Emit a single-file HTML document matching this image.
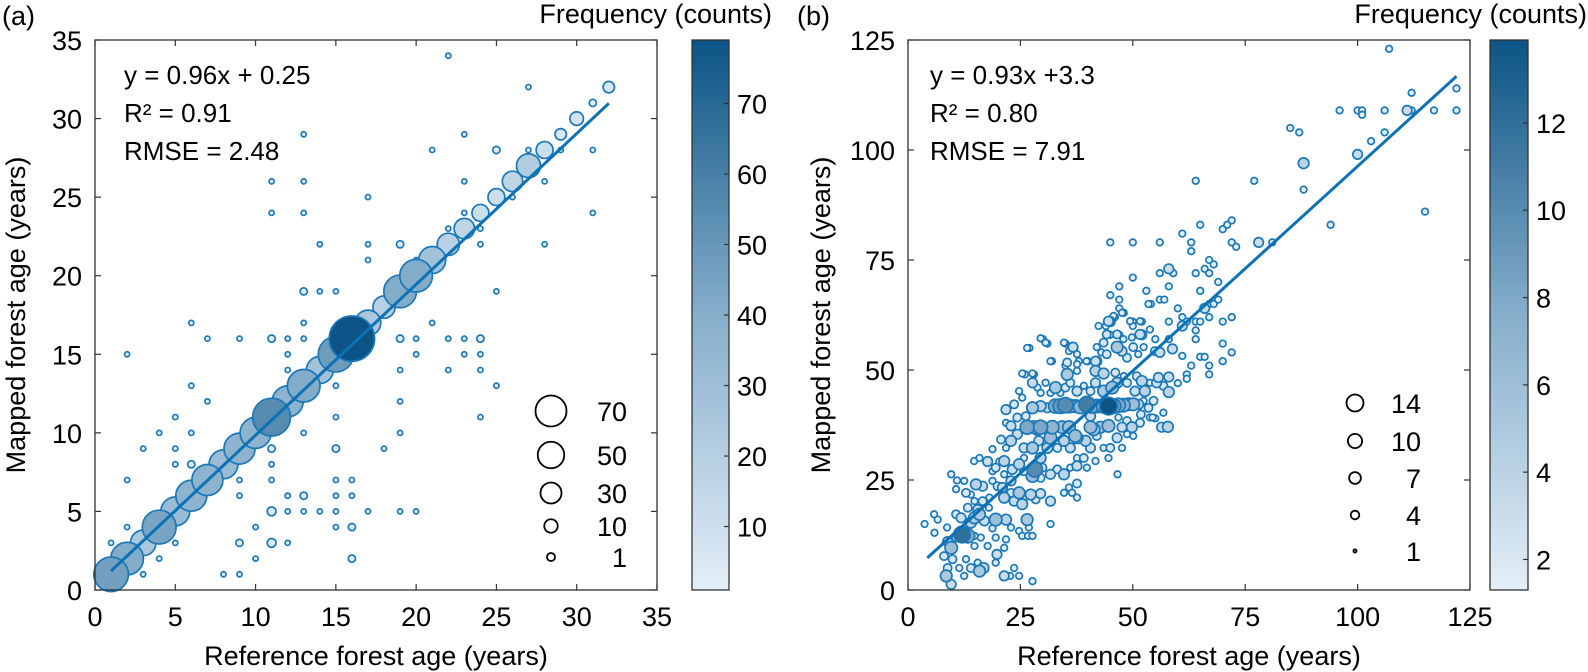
<!DOCTYPE html>
<html><head><meta charset="utf-8"><style>
body{margin:0;background:#fff;}
svg{display:block;font-family:"Liberation Sans",Arial,sans-serif;}
</style></head><body>
<svg id="fig" width="1588" height="672" viewBox="0 0 1588 672" xmlns="http://www.w3.org/2000/svg">
<defs>
<linearGradient id="cbgrad" x1="0" y1="1" x2="0" y2="0">
<stop offset="0" stop-color="#e3eef7"/><stop offset="0.5" stop-color="#86aecb"/><stop offset="1" stop-color="#0b5485"/>
</linearGradient>
</defs>
</svg>
<script>
// ---------- Panel (a) data ----------
const aDiagAges = [1,2,3,4,5,6,7,8,9,10,11,12,13,14,15,16,17,18,19,20,21,22,23,24,25,26,27,28,29,30,31,32];
const aDiagCounts = [46,41,25,44,32,37,37,32,37,37,55,37,41,28,48,79,25,19,41,41,28,19,16,11,11,16,22,11,5,7,2,5];
const aRefX = [22,27,13,23,21,25,27,28,29,31,11,13,23,28,17,11,13,23,31,26,22,24,14,17,19,24,28,17,20,13,14,15,25,6,13,16,21,7,9,11,12,13,17,19,20,22,23,24,2,12,20,23,24,12,19,22,24,6,15,25,7,19,11,5,15,24,4,6,13,19,3,5,11,15,18,5,6,11,2,9,11,15,16,9,12,13,15,16,11,12,13,14,15,17,19,20,2,10,15,16,1,5,9,11,12,4,10,16,3,8,9];
const aMapY = [34,32,29,29,28,28,28,28,28,28,26,26,26,26,25,24,24,24,24,25,23,23,22,22,22,22,22,21,21,19,19,19,19,17,17,17,17,16,16,16,16,16,16,16,16,16,16,16,15,15,15,15,15,14,14,14,14,13,13,13,12,12,12,11,11,11,10,10,10,10,9,9,9,9,9,8,8,8,7,7,7,7,7,6,6,6,6,6,5,5,5,5,5,5,5,5,4,4,4,4,3,3,3,3,3,2,2,2,1,1,1];
const aRefCounts = [1,1,1,1,1,2,1,1,1,1,1,1,1,1,1,1,1,1,1,1,1,1,1,1,2,1,1,1,1,2,1,1,1,1,1,1,1,1,1,2,1,1,1,2,1,1,1,2,1,1,1,1,1,1,1,1,1,1,1,1,1,1,1,1,1,1,1,1,1,1,1,1,2,2,1,1,2,1,1,1,1,1,1,1,1,2,1,1,3,1,1,1,1,1,1,1,1,1,1,2,1,1,2,3,1,1,1,2,1,1,1];
const aXTicks = [0,5,10,15,20,25,30,35];
const aYTicks = [0,5,10,15,20,25,30,35];
const aCbTicks = [10,20,30,40,50,60,70];
const aLegendCounts = [70,50,30,10,1];

// ---------- Panel (b) data ----------
const bRefX = [107,122,112,96,100,101,101,106,111,112,117,122,85,87,106,103,100,88,64,77,88,115,65,94,70,71,72,61,45,50,56,63,63,72,73,78,81,50,56,58,59,64,66,67,68,67,47,58,53,65,45,47,56,57,69,54,66,67,68,69,47,48,60,46,45,44,61,61,62,67,72,70,50,52,50,58,64,65,64,64,45,47,52,55,58,30,31,27,35,37,70,72,70,65,66,67,67,63,32,35,38,40,42,26,28,62,62,60,57.8,55,56.8,58,58,61,58.8,
8.5,9.6,8.8,9.9,11.4,12.9,12.5,14,15.9,16.8,15.5,19.5,21.4,22.7,23.6,24.7,27.7,
9.6,8.8,10.7,12,13.3,14.8,17.7,19.8,21.4,21.8,19.5,16.2,14.8,24.7,25.4,26.7,27.7,8,5.9,
3.7,5.8,6.6,8.7,10.7,11.8,14,14.8,15.9,17,18.8,19.5,21.8,22.9,26.5,26.9,31.7,13.3,15.5,18,
10.7,9.6,10.9,12.5,12.9,14,15.1,16.6,14.8,16.6,18.1,18.8,19.9,21,21.4,22.9,23.6,24.7,25.8,27.3,25.4,28.4,29.5,31.7,34.7,35.8,36.5,37.6,37.6,22.9,
14.7,15.9,17.7,19.5,20.3,21.4,18.8,18.8,21.4,23.2,24.7,25.8,27.7,28.2,29.9,29.5,31.7,33.2,34.7,36.1,37.6,39.1,41.7,39.8,46.6,44.6,37.6,25.8,29.5,
20.7,21.8,22.9,24.3,25.8,27.7,29.1,31,31.7,33.2,34.7,36.1,37.6,39.5,40.6,42,43.5,45,46.5,47.6,48.7,50.1,44.6,41.3,28.8,
26.5,28,29.5,32.1,34.3,35.8,37.2,40.6,42.8,47.6,49.8,51.6,53.8,56.4,48.7,
32.8,33.9,35,36.1,37.2,38.3,39.8,40.9,42,43.5,44.6,45.7,46.8,47.9,49,50.1,51.3,
21.8,23.6,24.7,25.4,27.7,26.2,29.5,31,21.8,22.9,24.3,53.5,54.6,52.4,52.7,54.4,51.8,46.8,40.6,
25.4,27.7,27.7,28.8,29.5,30.6,31.7,32.8,33.9,35,36.1,37.6,39.1,40.6,41.7,43.5,45.4,46.5,48.7,50.5,52,53.8,55.3,35.4,37.6,41.7,43.5,46.1,48,50.9,55.7,56.8,
26.5,29.5,30.6,31.7,34.7,35.8,36.7,37.6,35.4,37.6,39.7,41.7,42,43,42.4,44.2,44.6,45.7,46.5,47.6,48.7,50.1,51.2,52.4,46.5,47.9,49.8,51.6,53.8,54.9,56,49.4,51.6,47.6,53.5,43.5,44.2];
const bMapY = [123,114,113,109,109,109,108,109,109,109,109,109,105,104,104,102,99,97,93,93,91,86,83,83,82,83,84,81,79,79,79,79,77,79,78,79,79,71,72,73,72,72,73,75,74,72,69,69,68,68,67,66,66,66,70,65,64,65,65,66,64,63,64,62,61,60,62,60,61,62,62,61,61,61,60,61,61,61,59,57,58,58,58,57,57,57,56,55,56,55,56,54,52,53,53,51,49,51,52,51,52,52,52,49,49,49,48,47,37.1,39,40.3,45,48.4,53.2,54.8,
3.2,1.3,5,7,5,7,3.2,5,4.3,5,6.2,6.2,3.2,3.2,5,3.2,2,
9.6,11,11.9,12.6,12.3,10,10,8.1,9.6,11.5,11.9,11.9,12.3,13.4,12.3,12.3,12.3,7.7,13,
15,17.2,16,14.2,17.2,16.4,15.3,16.4,17.2,15.7,14,16,16,14.2,16,14.2,15,18.7,18.3,18.7,
22.9,26.3,24.9,24.8,22.1,21.7,24,23.6,20.2,20.2,21,24.8,23.6,23.3,21,22.1,20.2,22.1,21.4,21.7,19.5,20.6,21.9,20.2,22.1,23.3,22.1,21,24.2,24.8,
29.3,30,29.2,27.8,29.2,29.3,32,27,26.3,27.4,28.6,27,25.9,27.4,27.8,25.5,26.3,27.4,26.3,27.8,28.2,30,29.3,27.8,26.3,30,30,30,30,
34.2,32.3,33.9,35.4,32.3,32.3,33.9,32.3,34.6,32.3,33.9,32.3,34.6,33.9,32.3,35,32.3,32.3,34.6,32.3,35.4,35,37.3,36.5,36.5,
37,37,37,37,37,37,35,37,37,37,37,38,39.2,37,38.4,
41.8,41.8,42,41.8,41.8,41.6,42.2,41.8,41.8,41.8,41.8,41.8,42,42,42.2,42.2,42.2,
41,42.2,45.2,43.7,41.4,39.5,41.8,41.4,38,37.3,39.2,41.4,43,43,45.2,39.2,39.9,39.2,39.5,
49.2,49.2,47.1,46,44.8,47.1,44.8,46,44.8,46,47.1,45.2,46.4,45.2,47.1,45.2,46,47.1,47.1,45.2,47.5,47.1,47.1,49,49.8,49.8,49.2,49.4,48.6,48.6,48.3,46.4,
55,57.2,56.2,52,56.2,54.3,55.2,53.6,51.7,51.3,52,52,55.2,54,60,58.1,61.1,62.3,55.2,54.3,52.8,55.2,53.6,55.2,58.1,57,57.4,58.1,59.2,54.3,54,61.1,61.1,63,65,56.2,53.6];
const bCounts = [1,1,1,1,1,1,1,1,3,1,1,1,1,1,1,1,3,4,1,1,1,1,1,1,1,1,1,1,1,1,1,1,1,1,1,3,1,1,1,3,1,1,1,1,1,1,1,1,1,1,1,1,1,1,1,1,3,1,1,1,1,1,1,1,3,1,1,3,1,1,1,1,1,1,1,1,1,1,1,1,1,1,3,1,1,1,1,1,1,1,1,1,1,1,1,1,1,1,1,1,1,1,3,1,1,1,1,1,4,1,1,4,3,1,3,
5,3,2,2,1,1,1,2,5,4,1,1,3,1,1,1,1,
6,3,2,12,8,1,1,3,1,1,1,1,1,1,1,1,1,2,1,
1,1,1,1,2,3,4,5,5,3,1,6,4,1,5,1,1,2,3,1,
1,1,1,1,2,1,4,3,1,2,1,1,2,3,4,2,3,5,3,4,4,2,3,3,1,1,1,1,2,3,
1,1,3,2,1,4,1,1,1,3,4,2,6,10,2,2,3,2,4,1,3,2,1,1,1,1,1,1,4,
2,1,4,3,3,5,3,4,6,2,4,3,5,4,3,2,1,2,3,1,1,1,6,6,5,
8,6,8,7,6,6,6,6,5,3,4,2,1,3,2,
8,9,10,7,6,7,11,8,7,8,14,9,8,7,6,6,3,
3,2,1,1,5,2,4,3,1,3,2,2,2,1,4,1,2,1,3,
1,1,3,1,1,1,1,5,1,2,2,3,1,2,3,5,6,4,2,3,4,1,3,5,1,4,4,2,1,2,3,2,
1,1,1,1,1,1,3,1,2,1,1,3,1,1,1,2,3,1,5,3,2,2,1,1,2,1,1,3,1,2,3,1,1,1,1,2,2];
const bXTicks = [0,25,50,75,100,125];
const bYTicks = [0,25,50,75,100,125];
const bCbTicks = [2,4,6,8,10,12];
const bLegendCounts = [14,10,7,4,1];

// ---------- helpers ----------
const NS = 'http://www.w3.org/2000/svg';
const svg = document.getElementById('fig');
function el(tag, attrs, parent){
  const e = document.createElementNS(NS, tag);
  for (const k in attrs) e.setAttribute(k, attrs[k]);
  (parent||svg).appendChild(e);
  return e;
}
function lerp(a,b,t){return a+(b-a)*t;}
function hex(c){return [parseInt(c.slice(1,3),16),parseInt(c.slice(3,5),16),parseInt(c.slice(5,7),16)];}
const stops=[hex('#e3eef7'),hex('#86aecb'),hex('#0b5485')];
function cmap(t){
  t=Math.max(0,Math.min(1,t));
  let a,b,u;
  if(t<0.5){a=stops[0];b=stops[1];u=t/0.5;}else{a=stops[1];b=stops[2];u=(t-0.5)/0.5;}
  return 'rgb('+Math.round(lerp(a[0],b[0],u))+','+Math.round(lerp(a[1],b[1],u))+','+Math.round(lerp(a[2],b[2],u))+')';
}
const EDGE='#1a78b8';
const FS=27;

function panel(cfg){
  const g = el('g',{});
  
  
  const sx = v => cfg.x0 + (v-cfg.xmin)/(cfg.xmax-cfg.xmin)*(cfg.x1-cfg.x0);
  const sy = v => cfg.y0 - (v-cfg.ymin)/(cfg.ymax-cfg.ymin)*(cfg.y0-cfg.y1);
  const cy = v => cfg.y0 - (v-cfg.cmin)/(cfg.cmax-cfg.cmin)*(cfg.y0-cfg.y1);
  const col = c => cmap((c-cfg.cmin)/(cfg.cmax-cfg.cmin));
  const marks = el('g',{},g);
  
  
  cfg.pts.forEach(p=>{
    const c = el('circle',{cx:sx(p[0]).toFixed(1),cy:sy(p[1]).toFixed(1),r:cfg.rad(p[2]).toFixed(2),fill:col(p[2]),stroke:EDGE,'stroke-width':1.7},marks);
    
    
  });
  const ln = el('line',{x1:sx(cfg.fit[0]),y1:sy(cfg.fit[2]*cfg.fit[0]+cfg.fit[3]),x2:sx(cfg.fit[1]),y2:sy(cfg.fit[2]*cfg.fit[1]+cfg.fit[3]),stroke:'#0b72b5','stroke-width':3},g);
  
  
  const fr = el('rect',{x:cfg.x0,y:cfg.y1,width:cfg.x1-cfg.x0,height:cfg.y0-cfg.y1,fill:'none',stroke:'#333','stroke-width':1.3},g);
  
  
  cfg.xt.forEach(v=>{
    const x=sx(v);
    el('line',{x1:x,y1:cfg.y0,x2:x,y2:cfg.y0-6,stroke:'#333','stroke-width':1.2},g);
    el('line',{x1:x,y1:cfg.y1,x2:x,y2:cfg.y1+6,stroke:'#333','stroke-width':1.2},g);
    const t=el('text',{x:x,y:cfg.y0+36,'font-size':FS,'text-anchor':'middle'},g);
    t.textContent=v;
    
    
  });
  cfg.yt.forEach(v=>{
    const y=sy(v);
    el('line',{x1:cfg.x0,y1:y,x2:cfg.x0+6,y2:y,stroke:'#333','stroke-width':1.2},g);
    el('line',{x1:cfg.x1,y1:y,x2:cfg.x1-6,y2:y,stroke:'#333','stroke-width':1.2},g);
    const t=el('text',{x:cfg.x0-13,y:y+10,'font-size':FS,'text-anchor':'end'},g);
    t.textContent=v;
    
    
  });
  const xl=el('text',{x:(cfg.x0+cfg.x1)/2,y:cfg.y0+75,'font-size':FS,'text-anchor':'middle'},g);
  xl.textContent='Reference forest age (years)';
  
  
  const yl=el('text',{x:0,y:0,'font-size':FS,'text-anchor':'middle',transform:'translate('+(cfg.x0-cfg.ylabOff)+','+((cfg.y0+cfg.y1)/2)+') rotate(-90)'},g);
  yl.textContent='Mapped forest age (years)';
  
  
  cfg.ann.forEach((s,i)=>{
    const t=el('text',{x:cfg.x0+cfg.annX,y:cfg.y1+44+i*38,'font-size':26},g);
    t.textContent=s;
    
    
  });
  const pl=el('text',{x:cfg.letterX,y:25,'font-size':FS},g);
  pl.textContent=cfg.letter;
  
  
  const lg=el('g',{},g);
  
  
  let y=cfg.legY[0];
  cfg.legCounts.forEach((c,i)=>{
    y+=cfg.legY[1][i];
    el('circle',{cx:cfg.legX,cy:y,r:cfg.legRad(c),fill:'none',stroke:'#000','stroke-width':1.8},lg);
    const t=el('text',{x:cfg.legX+cfg.legTx,y:y+10,'font-size':FS,'text-anchor':'end'},lg);
    t.textContent=c;
    
    
  });
  const cb=el('g',{},g);
  
  
  el('rect',{x:cfg.cbx,y:cfg.y1,width:cfg.cbw,height:cfg.y0-cfg.y1,fill:'url(#cbgrad)',stroke:'#333','stroke-width':1.3},cb);
  cfg.cbt.forEach(v=>{
    const yy=cy(v);
    el('line',{x1:cfg.cbx+cfg.cbw,y1:yy,x2:cfg.cbx+cfg.cbw-5,y2:yy,stroke:'#333','stroke-width':1.2},cb);
    const t=el('text',{x:cfg.cbx+cfg.cbw+8,y:yy+10,'font-size':FS},cb);
    t.textContent=v;
    
    
  });
  const ct=el('text',{x:cfg.cbTitleX,y:23,'font-size':FS,'text-anchor':'end'},cb);
  ct.textContent='Frequency (counts)';
  
  
}

const aPts=[];
aDiagAges.forEach((x,i)=>aPts.push([x,x,aDiagCounts[i]]));
aRefX.forEach((x,i)=>aPts.push([x,aMapY[i],aRefCounts[i]]));
aPts.sort((p,q)=>p[2]-q[2]);
const bPts=bRefX.map((x,i)=>[x,bMapY[i],bCounts[i]]);
bPts.sort((p,q)=>p[2]-q[2]);

panel({name:'panel-a',letter:'(a)',letterX:2,x0:95,x1:657,y0:590,y1:40,xmin:0,xmax:35,ymin:0,ymax:35,
  cmin:1,cmax:79,pts:aPts,rad:c=>2.55*Math.sqrt(c),fit:[1,32,0.96,0.25],
  xt:aXTicks,yt:aYTicks,ylabOff:70,ann:['y = 0.96x + 0.25','R\u00b2 = 0.91','RMSE = 2.48'],annX:29,
  legCounts:aLegendCounts,legX:551,legTx:76,legY:[411,[0,44,38,33,31]],legRad:c=>Math.sqrt(13+3.25*c),
  cbx:692,cbw:37,cbt:aCbTicks,cbTitleX:772});
panel({name:'panel-b',letter:'(b)',letterX:797,x0:908,x1:1470,y0:590,y1:40,xmin:0,xmax:125,ymin:0,ymax:125,
  cmin:1.3,cmax:13.9,pts:bPts,rad:c=>2.0*Math.sqrt(c)+1.3,fit:[4.3,122,0.93,3.3],
  xt:bXTicks,yt:bYTicks,ylabOff:78,ann:['y = 0.93x +3.3','R\u00b2 = 0.80','RMSE = 7.91'],annX:22,
  legCounts:bLegendCounts,legX:1355,legTx:66,legY:[403,[0,38,37,37,36]],legRad:c=>Math.sqrt(Math.max(2,5.37*c-3)),
  cbx:1490,cbw:38,cbt:bCbTicks,cbTitleX:1587});
</script>
</body></html>
